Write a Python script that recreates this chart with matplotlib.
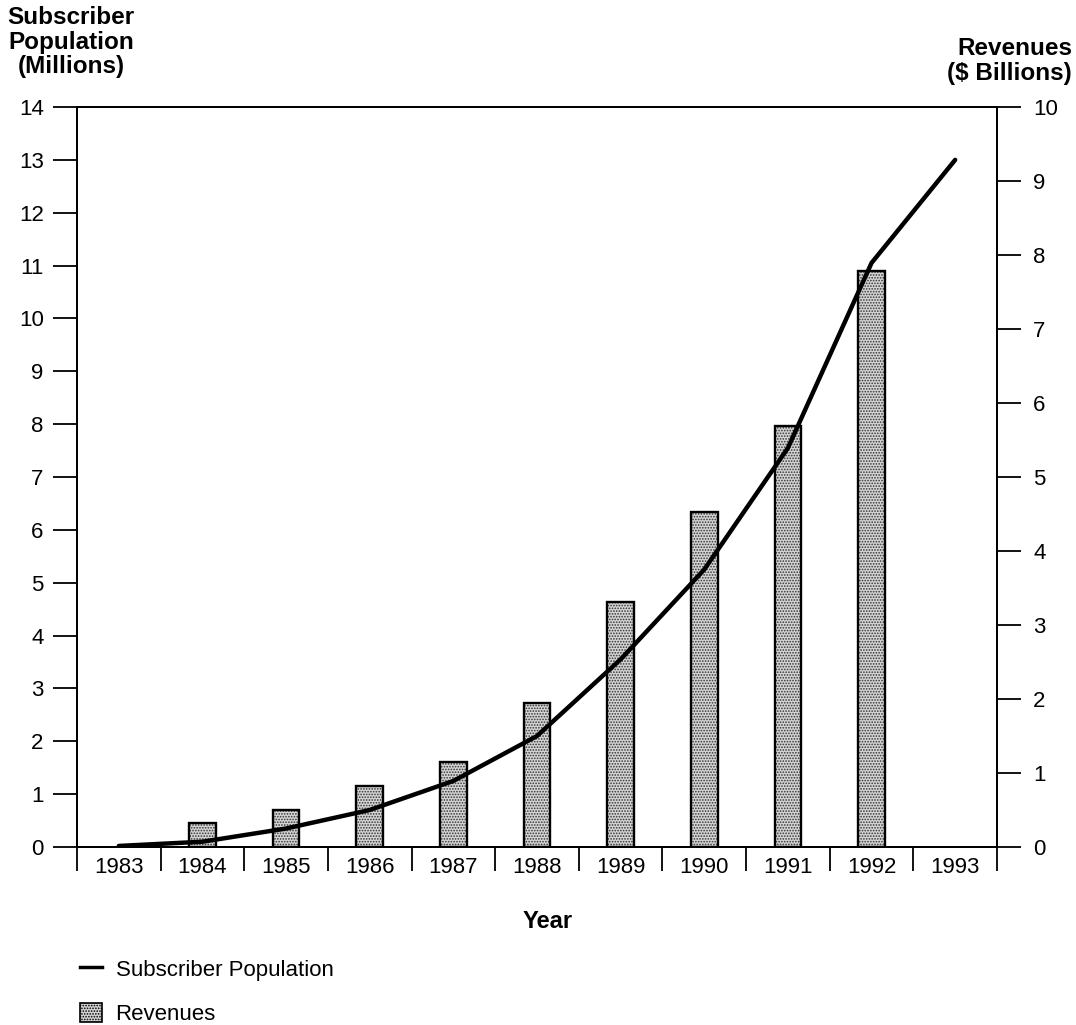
import numpy as np
import matplotlib.pyplot as plt
from matplotlib.lines import Line2D
from matplotlib.patches import Patch

plt.rcParams['font.family'] = ['Liberation Sans', 'DejaVu Sans']
plt.rcParams['hatch.linewidth'] = 0.8

# data
years = ['1983', '1984', '1985', '1986', '1987', '1988', '1989', '1990', '1991', '1992', '1993']
subscribers = [0.02, 0.1, 0.35, 0.7, 1.25, 2.1, 3.55, 5.25, 7.55, 11.05, 13.0]  # millions
rev_years = ['1984', '1985', '1986', '1987', '1988', '1989', '1990', '1991', '1992']
revenues = [0.32, 0.5, 0.82, 1.15, 1.94, 3.31, 4.53, 5.69, 7.79]  # $ billions

W, H = 1076, 1025
fig = plt.figure(figsize=(W / 100, H / 100), dpi=100)
ax = fig.add_axes([77 / W, 1 - 847 / H, 920 / W, 740 / H])
ax2 = ax.twinx()

x = np.arange(len(years)) + 0.5
rx = np.array([years.index(y) for y in rev_years]) + 0.5

# revenues bars (right axis): stipple fill, then black outline
ax2.bar(rx, revenues, width=0.32, facecolor='#d4d4d4', edgecolor='#333333',
        linewidth=0, hatch='......', zorder=2)
ax2.bar(rx, revenues, width=0.32, facecolor='none', edgecolor='black',
        linewidth=1.7, zorder=3)

# subscriber line (left axis), drawn over the bars
ax.plot(x, subscribers, color='black', lw=3.2, solid_joinstyle='round',
        solid_capstyle='round')
ax.set_zorder(ax2.get_zorder() + 1)
ax.patch.set_visible(False)

ax.set_xlim(0, len(years))
ax.set_ylim(0, 14)
ax2.set_ylim(0, 10)
ax.set_yticks(range(15))
ax2.set_yticks(range(11))

ax.set_xticks(range(len(years) + 1))
ax.set_xticklabels([])
ax.set_xticks(x, minor=True)
ax.set_xticklabels(years, minor=True)

ax.tick_params(axis='x', which='major', length=17, width=1.3, direction='out')
ax.tick_params(axis='x', which='minor', length=0, pad=7, labelsize=16)
ax.tick_params(axis='y', length=17, width=1.3, pad=7, labelsize=16)
ax2.tick_params(axis='y', length=17, width=1.3, pad=9, labelsize=16)

for a in (ax, ax2):
    for s in a.spines.values():
        s.set_linewidth(1.4)

fig.text(71 / W, 1 - 42 / H, 'Subscriber\nPopulation\n(Millions)', ha='center',
         va='center', fontsize=17.5, fontweight='bold', linespacing=1.1)
fig.text(1072 / W, 1 - 61 / H, 'Revenues\n($ Billions)', ha='right', va='center',
         multialignment='right', fontsize=17.5, fontweight='bold', linespacing=1.1)
fig.text(548 / W, 1 - 921 / H, 'Year', ha='center', va='center', fontsize=17,
         fontweight='bold')

handles = [Line2D([], [], color='black', lw=2.5),
           Patch(facecolor='#d4d4d4', edgecolor='black', hatch='......', linewidth=1.2)]
fig.legend(handles, ['Subscriber Population', 'Revenues'], loc='upper left',
           bbox_to_anchor=(80 / W, 1 - 959 / H), frameon=False, fontsize=16,
           handlelength=1.0, handleheight=0.9, handletextpad=0.6, labelspacing=1.0,
           borderpad=0, borderaxespad=0)

fig.savefig('out.png', dpi=100)
